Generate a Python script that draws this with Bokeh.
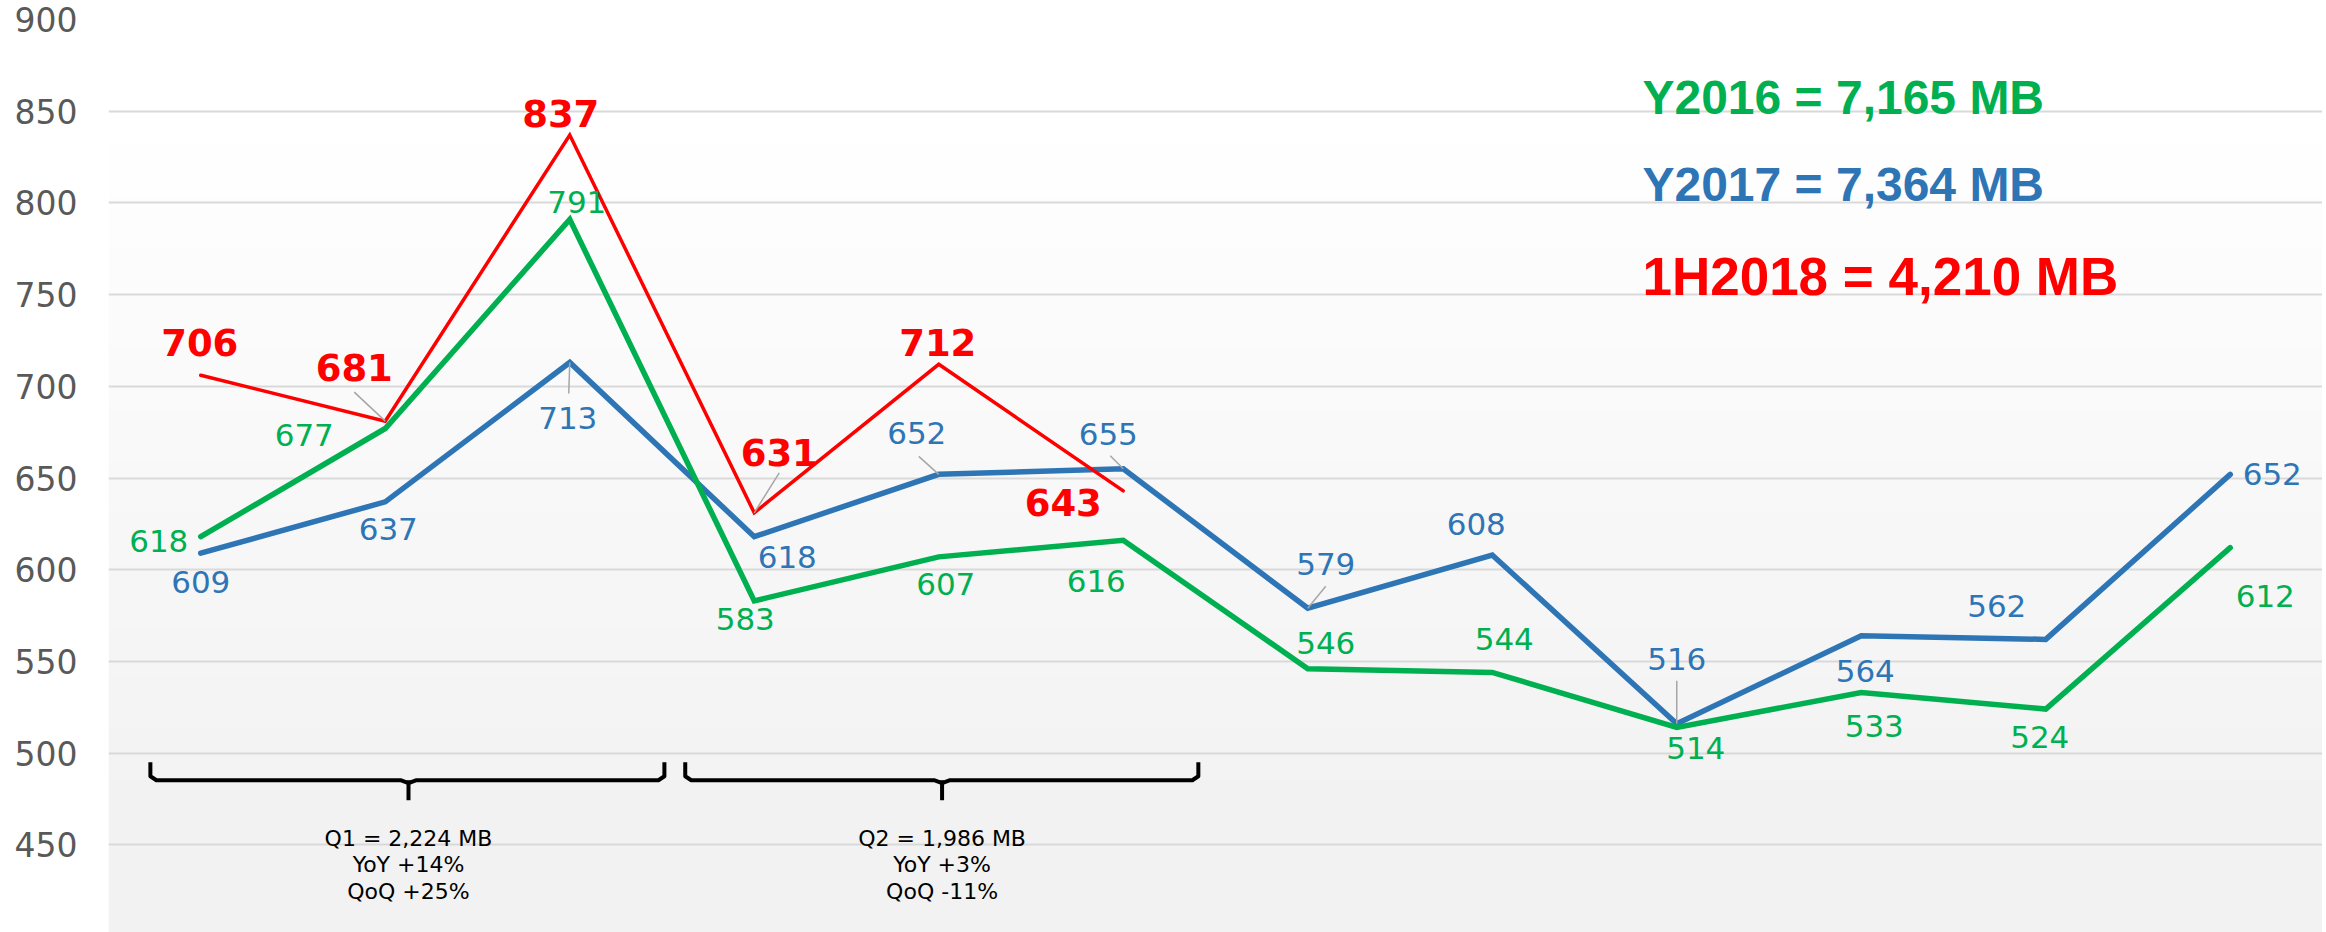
import numpy as np
from bokeh.plotting import figure
from bokeh.models import Range1d, FixedTicker, ColumnDataSource
from bokeh.core.properties import value
from bokeh.embed import file_html
from bokeh.resources import INLINE

# ---------------- data ----------------
months = ["Jan", "Feb", "Mar", "Apr", "May", "Jun",
          "Jul", "Aug", "Sep", "Oct", "Nov", "Dec"]
y2016 = [618, 677, 791, 583, 607, 616, 546, 544, 514, 533, 524, 612]
y2017 = [609, 637, 713, 618, 652, 655, 579, 608, 516, 564, 562, 652]
h2018 = [706, 681, 837, 631, 712, 643]
summary_texts = ["Y2016 = 7,165 MB", "Y2017 = 7,364 MB", "1H2018 = 4,210 MB"]
q1_texts = ["Q1 = 2,224 MB", "YoY +14%", "QoQ +25%"]
q2_texts = ["Q2 = 1,986 MB", "YoY +3%", "QoQ -11%"]
y_ticks = [450, 500, 550, 600, 650, 700, 750, 800, 850, 900]

# ---------------- layout / style ----------------
GREEN = "#00b050"
BLUE = "#2e75b6"
RED = "#ff0000"
FONT = "DejaVu Sans"

W, H = 2322, 932
BL, BT = 108, 19
FRAME_W = W - BL
FRAME_H = H - BT
PX_Y = 1.834
Y1 = 900
Y0 = Y1 - FRAME_H / PX_Y
PX_X = FRAME_W / 12.0

x = list(range(len(months)))
xr = list(range(len(h2018)))

p = figure(width=W, height=H, output_backend="svg", toolbar_location=None,
           x_range=Range1d(-0.5, 11.5), y_range=Range1d(Y0, Y1),
           min_border_left=BL, min_border_right=0, min_border_top=BT,
           min_border_bottom=0)
p.outline_line_color = None
p.background_fill_color = "white"
p.border_fill_color = "white"
p.xaxis.visible = False
p.xgrid.visible = False
p.ygrid.grid_line_color = "#d9d9d9"
p.ygrid.grid_line_width = 2
p.yaxis.ticker = FixedTicker(ticks=y_ticks)
p.yaxis.axis_line_color = None
p.yaxis.major_tick_line_color = None
p.yaxis.minor_tick_line_color = None
p.yaxis.major_tick_out = 0
p.yaxis.major_tick_in = 0
p.yaxis.major_label_standoff = 31
p.yaxis.major_label_text_font = FONT
p.yaxis.major_label_text_font_size = "33px"
p.yaxis.major_label_text_color = "#595959"

# background gradient of the plot area (white at top -> light grey at bottom)
edges = np.linspace(Y0, Y1, 90)
bots, tops, cols = [], [], []
for b, t in zip(edges[:-1], edges[1:]):
    mid = (b + t) / 2
    f = min(max((850 - mid) / (850 - 470), 0.0), 1.0)
    c = int(round(255 - 13 * f))
    bots.append(b - 0.6)
    tops.append(t + 0.6)
    cols.append("#%02x%02x%02x" % (c, c, c))
bg = p.quad(left=-0.5, right=11.5, bottom=bots, top=tops, fill_color=cols,
            line_color=None)
bg.level = "image"

# lines
p.line(x, y2017, line_color=BLUE, line_width=5.5, line_join="miter", line_cap="round")
p.line(xr, h2018, line_color=RED, line_width=3.5, line_join="miter", line_cap="round")
p.line(x, y2016, line_color=GREEN, line_width=5.5, line_join="miter", line_cap="round")

# label offsets in screen px (dx, dy; dy positive = downward)
green_off = [(-42, 4), (-81, 7), (7, -17), (-9, 18), (7, 27), (-27, 41),
             (18, -26), (12, -33), (19, 21), (13, 33), (-6, 28), (35, 48)]
blue_off = [(0, 29), (3, 27), (-2, 56), (33, 20), (-22, -41), (-15, -35),
            (18, -44), (-16, -31), (0, -65), (4, 35), (-49, -33), (42, 0)]
red_off = [(-1, -33), (-31, -54), (-9, -22), (25, -60), (-1, -22), (-60, 12)]

# leader lines: (series, index, dx, dy) end point relative to data point
leaders = [("r", 1, -31, -29), ("b", 2, -1, 31), ("r", 3, 25, -40),
           ("b", 4, -20, -18), ("b", 5, -13, -13), ("b", 6, 18, -22),
           ("b", 8, 0, -43)]
series = {"r": (xr, h2018), "b": (x, y2017), "g": (x, y2016)}
lx0, ly0, lx1, ly1 = [], [], [], []
for s, i, dx, dy in leaders:
    xs, ys = series[s]
    lx0.append(xs[i]); ly0.append(ys[i])
    lx1.append(xs[i] + dx / PX_X); ly1.append(ys[i] - dy / PX_Y)
p.segment(lx0, ly0, lx1, ly1, line_color="#a6a6a6", line_width=1.5)


def labels(xs, ys, offs, color, size, style):
    src = ColumnDataSource(dict(x=xs, y=ys, t=[str(v) for v in ys],
                                dx=[o[0] for o in offs], dy=[o[1] for o in offs]))
    p.text(x="x", y="y", text="t", x_offset="dx", y_offset="dy", source=src,
           text_color=color, text_font=value(FONT), text_font_size=size,
           text_font_style=style, text_align="center", text_baseline="middle")


labels(x, y2016, green_off, GREEN, "31px", "normal")
labels(x, y2017, blue_off, BLUE, "31px", "normal")
labels(xr, h2018, red_off, RED, "37px", "bold")


# quarter brackets
def bracket(left, right, tip, texts):
    top, line, stem = 495.0, 485.2, 474.3
    r = 6 / PX_X
    c = 4 / PX_Y
    d = 8 / PX_X
    n = 3 / PX_Y
    xs = [left, left, left + r, tip - d, tip, tip + d, right - r, right, right]
    ys = [top, line + c, line, line, line - n, line, line, line + c, top]
    p.line(xs, ys, line_color="black", line_width=4, line_join="round")
    p.line([tip, tip], [line, stem], line_color="black", line_width=4)
    ty = [453.6, 439.3, 424.8]
    p.text(x=[tip] * 3, y=ty, text=texts, text_color="black",
           text_font=value(FONT), text_font_size="22px", text_align="center",
           text_baseline="middle")


bracket(-0.273, 2.513, 1.126, q1_texts)
bracket(2.626, 5.407, 4.018, q2_texts)

# summary texts
sx = 7.814
for txt, yb, col, size in zip(summary_texts, [857.2, 810.0, 760.1],
                              [GREEN, BLUE, RED], ["48px", "48px", "53px"]):
    p.text(x=[sx], y=[yb], text=[txt], text_color=col,
           text_font=value("Liberation Sans"), text_font_size=size,
           text_font_style="bold", text_align="left", text_baseline="alphabetic")

open("out.html", "w").write(file_html(p, INLINE))
